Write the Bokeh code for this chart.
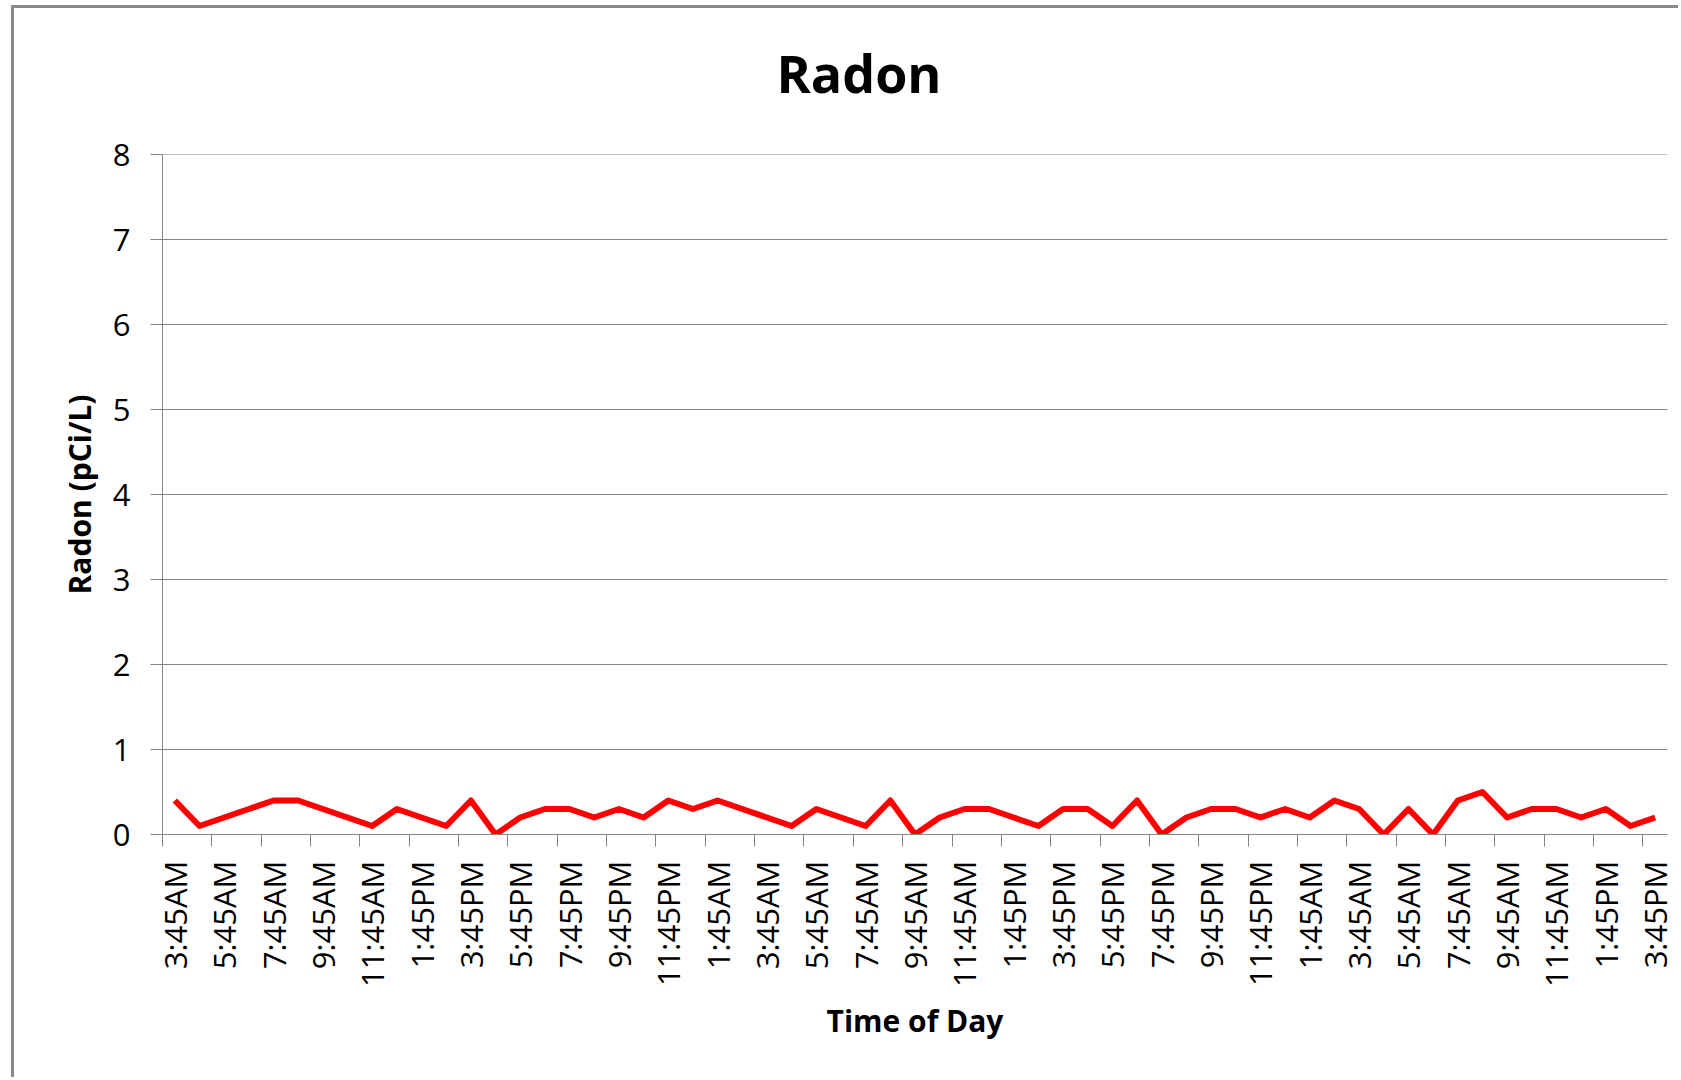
import math
from bokeh.plotting import figure
from bokeh.models import FixedTicker, LinearAxis, Range1d, Grid, Title
from bokeh.embed import file_html
from bokeh.resources import INLINE

# ---- data ----
hours = list(range(61))  # hourly readings, 3:45AM day 1 to 3:45PM day 3
radon = [0.4, 0.1, 0.2, 0.3, 0.4, 0.4, 0.3, 0.2, 0.1, 0.3, 0.2, 0.1, 0.4, 0.0, 0.2, 0.3,
         0.3, 0.2, 0.3, 0.2, 0.4, 0.3, 0.4, 0.3, 0.2, 0.1, 0.3, 0.2, 0.1, 0.4, 0.0,
         0.2, 0.3, 0.3, 0.2, 0.1, 0.3, 0.3, 0.1, 0.4, 0.0, 0.2, 0.3, 0.3, 0.2, 0.3,
         0.2, 0.4, 0.3, 0.0, 0.3, 0.0, 0.4, 0.5, 0.2, 0.3, 0.3, 0.2, 0.3, 0.1, 0.2]
tick_labels = ["3:45AM", "5:45AM", "7:45AM", "9:45AM", "11:45AM", "1:45PM", "3:45PM",
               "5:45PM", "7:45PM", "9:45PM", "11:45PM", "1:45AM",
               "3:45AM", "5:45AM", "7:45AM", "9:45AM", "11:45AM", "1:45PM", "3:45PM",
               "5:45PM", "7:45PM", "9:45PM", "11:45PM", "1:45AM",
               "3:45AM", "5:45AM", "7:45AM", "9:45AM", "11:45AM", "1:45PM", "3:45PM"]
y_ticks = [0, 1, 2, 3, 4, 5, 6, 7, 8]

FONT = "Open Sans"
GRAY = "#868686"

label_pos = [hours[2 * k] for k in range(len(tick_labels))]
boundary_ticks = [p_ - 0.5 for p_ in label_pos]

p = figure(width=1667, height=1072,
           x_range=Range1d(-0.5, 60.5), y_range=Range1d(0, 8.002),
           output_backend="svg", toolbar_location=None,
           x_axis_location=None, y_axis_location=None,
           min_border_left=148, min_border_right=14,
           min_border_top=146, min_border_bottom=246)
p.margin = (5, 0, 0, 11)
p.outline_line_color = None
p.background_fill_color = "white"
p.border_fill_color = "white"
p.styles = {"border-left": "3px solid #898989", "border-top": "3px solid #898989"}
for g in p.grid:
    g.visible = False
p.title.text = ""

# spacer between plot area and title, then the title itself
spacer = Title(text=" ", text_font_size="2px", standoff=43, text_color="white")
p.add_layout(spacer, "above")
title = Title(text="Radon", text_font=FONT, text_font_size="52px",
              text_font_style="bold", text_color="black",
              align="left", offset=614, standoff=0, vertical_align="bottom")
p.add_layout(title, "above")

# horizontal gridlines
grid = Grid(dimension=1, ticker=FixedTicker(ticks=y_ticks),
            grid_line_color=GRAY, grid_line_width=1)
p.add_layout(grid)

# y axis
yax = LinearAxis(ticker=FixedTicker(ticks=y_ticks))
yax.axis_line_color = GRAY
yax.major_tick_line_color = GRAY
yax.major_tick_out = 12
yax.major_tick_in = 0
yax.minor_tick_out = 0
yax.minor_tick_in = 0
yax.major_label_standoff = 20
yax.major_label_text_font = FONT
yax.major_label_text_font_size = "31px"
yax.major_label_text_color = "black"
yax.axis_label = "Radon (pCi/L)"
yax.axis_label_text_font = FONT
yax.axis_label_text_font_size = "30px"
yax.axis_label_text_font_style = "bold"
yax.axis_label_text_color = "black"
yax.axis_label_standoff = 10
p.add_layout(yax, "left")

# x axis: tick marks at category boundaries
xax1 = LinearAxis(ticker=FixedTicker(ticks=boundary_ticks))
xax1.axis_line_color = GRAY
xax1.major_tick_line_color = GRAY
xax1.major_tick_out = 12
xax1.major_tick_in = 0
xax1.minor_tick_out = 0
xax1.minor_tick_in = 0
xax1.major_label_overrides = {t: "" for t in boundary_ticks}
xax1.major_label_text_font_size = "0px"
xax1.major_label_standoff = 0
p.add_layout(xax1, "below")

# x axis: labels at category centres
xax2 = LinearAxis(ticker=FixedTicker(ticks=label_pos))
xax2.axis_line_color = None
xax2.major_tick_line_color = None
xax2.major_tick_out = 0
xax2.major_tick_in = 0
xax2.minor_tick_out = 0
xax2.minor_tick_in = 0
xax2.major_label_overrides = {pos: lab for pos, lab in zip(label_pos, tick_labels)}
xax2.major_label_orientation = math.pi / 2
xax2.major_label_standoff = 14
xax2.major_label_text_font = FONT
xax2.major_label_text_font_size = "31px"
xax2.major_label_text_color = "black"
xax2.axis_label = "Time of Day"
xax2.axis_label_text_font = FONT
xax2.axis_label_text_font_size = "30px"
xax2.axis_label_text_font_style = "bold"
xax2.axis_label_text_color = "black"
xax2.axis_label_standoff = 10
p.add_layout(xax2, "below")

# data line
p.line(hours, radon, line_color="#FF0000", line_width=6, line_join="round")

open("out.html", "w").write(file_html(p, INLINE))
